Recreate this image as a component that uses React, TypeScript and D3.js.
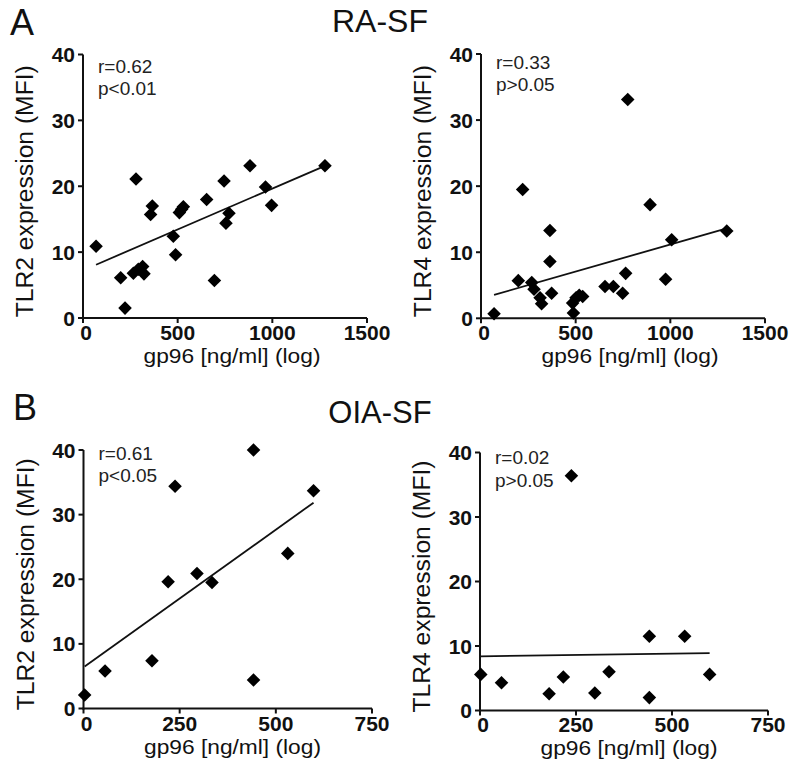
import React from "react";
import * as d3 from "d3";

// ---------- data ----------
const raGp96_TLR2 = [69, 199, 222, 280, 266, 292, 315, 322, 357, 366, 477, 489, 509, 521, 530, 653, 694, 745, 755, 771, 882, 964, 996, 1278];
const raTLR2 = [10.9, 6.1, 1.5, 21.1, 6.8, 7.4, 7.8, 6.7, 15.7, 17.0, 12.4, 9.6, 16.0, 16.5, 16.9, 18.0, 5.7, 20.8, 14.4, 15.9, 23.1, 19.9, 17.1, 23.1];

const raGp96_TLR4 = [69, 197, 220, 268, 280, 312, 320, 364, 364, 373, 484, 488, 502, 519, 537, 655, 699, 748, 764, 775, 893, 975, 1007, 1298];
const raTLR4 = [0.7, 5.7, 19.5, 5.4, 4.4, 3.1, 2.2, 13.3, 8.6, 3.8, 2.3, 0.8, 3.1, 3.5, 3.3, 4.8, 4.8, 3.8, 6.8, 33.1, 17.2, 5.9, 11.9, 13.2];

const oiaGp96_TLR2 = [3, 56, 178, 220, 238, 295, 334, 442, 442, 531, 598];
const oiaTLR2 = [2.1, 5.8, 7.4, 19.6, 34.4, 20.9, 19.5, 40.0, 4.4, 24.0, 33.7];

const oiaGp96_TLR4 = [2, 56, 180, 217, 238, 299, 336, 441, 441, 533, 598];
const oiaTLR4 = [5.6, 4.3, 2.6, 5.2, 36.4, 2.7, 6.0, 11.5, 2.0, 11.5, 5.6];

// regression lines: [intercept, slope, xStart, xEnd]
const fitRA_TLR2 = [7.23, 0.01242, 69, 1278];
const fitRA_TLR4 = [2.98, 0.00819, 69, 1298];
const fitOIA_TLR2 = [6.37, 0.04261, 3, 598];
const fitOIA_TLR4 = [8.4, 0.00083, 0, 598];

const xTicksRA = [0, 500, 1000, 1500];
const xTicksOIA = [0, 250, 500, 750];
const yTicks = [0, 10, 20, 30, 40];

const statsRA_TLR2 = ["r=0.62", "p<0.01"];
const statsRA_TLR4 = ["r=0.33", "p>0.05"];
const statsOIA_TLR2 = ["r=0.61", "p<0.05"];
const statsOIA_TLR4 = ["r=0.02", "p>0.05"];

const xLabel = "gp96 [ng/ml] (log)";

// ---------- layout ----------
const FONT = "'Liberation Sans', Arial, Helvetica, sans-serif";

type PanelCfg = {
  xs: number[]; ys: number[]; fit: number[]; xTicks: number[]; stats: string[];
  yLabel: string;
  x0: number; x1: number; yBot: number; yTop: number;
  statY: number[]; xLabY: number; tickLabY: number;
};

const panels: PanelCfg[] = [
  { xs: raGp96_TLR2, ys: raTLR2, fit: fitRA_TLR2, xTicks: xTicksRA, stats: statsRA_TLR2,
    yLabel: "TLR2 expression (MFI)", x0: 83, x1: 367, yBot: 318, yTop: 54.5,
    statY: [73, 95], xLabY: 363, tickLabY: 340 },
  { xs: raGp96_TLR4, ys: raTLR4, fit: fitRA_TLR4, xTicks: xTicksRA, stats: statsRA_TLR4,
    yLabel: "TLR4 expression (MFI)", x0: 481, x1: 765, yBot: 318.3, yTop: 54,
    statY: [69, 91], xLabY: 363, tickLabY: 340 },
  { xs: oiaGp96_TLR2, ys: oiaTLR2, fit: fitOIA_TLR2, xTicks: xTicksOIA, stats: statsOIA_TLR2,
    yLabel: "TLR2 expression (MFI)", x0: 83.5, x1: 372, yBot: 708.5, yTop: 450,
    statY: [460, 482], xLabY: 754, tickLabY: 731 },
  { xs: oiaGp96_TLR4, ys: oiaTLR4, fit: fitOIA_TLR4, xTicks: xTicksOIA, stats: statsOIA_TLR4,
    yLabel: "TLR4 expression (MFI)", x0: 480, x1: 768, yBot: 710.5, yTop: 452.5,
    statY: [464, 487], xLabY: 755, tickLabY: 732 },
];

const diamond = d3.symbol().type(d3.symbolSquare).size(92)();

function Panel({ p }: { p: PanelCfg }) {
  const xMax = p.xTicks[p.xTicks.length - 1];
  const x = d3.scaleLinear().domain([0, xMax]).range([p.x0, p.x1]);
  const y = d3.scaleLinear().domain([0, 40]).range([p.yBot, p.yTop]);
  const [b, m, xa, xb] = p.fit;
  const line = d3.line<number>().x((v) => x(v)).y((v) => y(b + m * v));
  const yMid = (p.yBot + p.yTop) / 2 + 5;
  return (
    <g>
      {/* axes */}
      <line x1={p.x0} x2={p.x0} y1={p.yTop} y2={p.yBot + 1} stroke="#111" strokeWidth={2} />
      <line x1={p.x0 - 1} x2={p.x1} y1={p.yBot} y2={p.yBot} stroke="#111" strokeWidth={2} />
      {yTicks.map((t) => (
        <g key={"y" + t}>
          <line x1={p.x0 - 5} x2={p.x0} y1={y(t)} y2={y(t)} stroke="#111" strokeWidth={2} />
          <text x={p.x0 - 8} y={y(t)} dy="0.36em" textAnchor="end" fontFamily={FONT}
            fontWeight="bold" fontSize={21} fill="#111">{t}</text>
        </g>
      ))}
      {p.xTicks.map((t) => (
        <g key={"x" + t}>
          <line x1={x(t)} x2={x(t)} y1={p.yBot} y2={p.yBot + 5} stroke="#111" strokeWidth={2} />
          <text x={x(t) + (t === 0 ? 3 : 0)} y={p.tickLabY} textAnchor="middle" fontFamily={FONT}
            fontWeight="bold" fontSize={21} fill="#111">{t}</text>
        </g>
      ))}
      {/* labels */}
      <text x={p.x0 + 149} y={p.xLabY} textAnchor="middle" fontFamily={FONT} fontSize={20}
        fill="#111" textLength={177} lengthAdjust="spacingAndGlyphs">{xLabel}</text>
      <text transform={`translate(${p.x0 - 50},${yMid}) rotate(-90)`} textAnchor="middle"
        fontFamily={FONT} fontSize={23} fill="#111" textLength={252}
        lengthAdjust="spacingAndGlyphs">{p.yLabel}</text>
      {p.stats.map((s, i) => (
        <text key={s} x={p.x0 + 15} y={p.statY[i]} fontFamily={FONT} fontSize={19} fill="#222">{s}</text>
      ))}
      {/* regression line */}
      <path d={line([xa, xb]) || ""} fill="none" stroke="#111" strokeWidth={1.8} />
      {/* points */}
      {p.xs.map((v, i) => (
        <path key={i} d={diamond || ""} transform={`translate(${x(v)},${y(p.ys[i])}) rotate(45)`} fill="#000" />
      ))}
    </g>
  );
}

export default function App() {
  return (
    <svg width={800} height={776} style={{ display: "block", position: "absolute", left: 0, top: 0, background: "#fff" }}>
      <rect width={800} height={776} fill="#fff" />
      <text x={10} y={35} fontFamily={FONT} fontSize={36} fill="#111">A</text>
      <text x={380} y={32} textAnchor="middle" fontFamily={FONT} fontSize={32} fill="#111">RA-SF</text>
      <text x={13} y={420} fontFamily={FONT} fontSize={36} fill="#111">B</text>
      <text x={380} y={423} textAnchor="middle" fontFamily={FONT} fontSize={31} fill="#111">OIA-SF</text>
      {panels.map((p, i) => (
        <Panel key={i} p={p} />
      ))}
    </svg>
  );
}
